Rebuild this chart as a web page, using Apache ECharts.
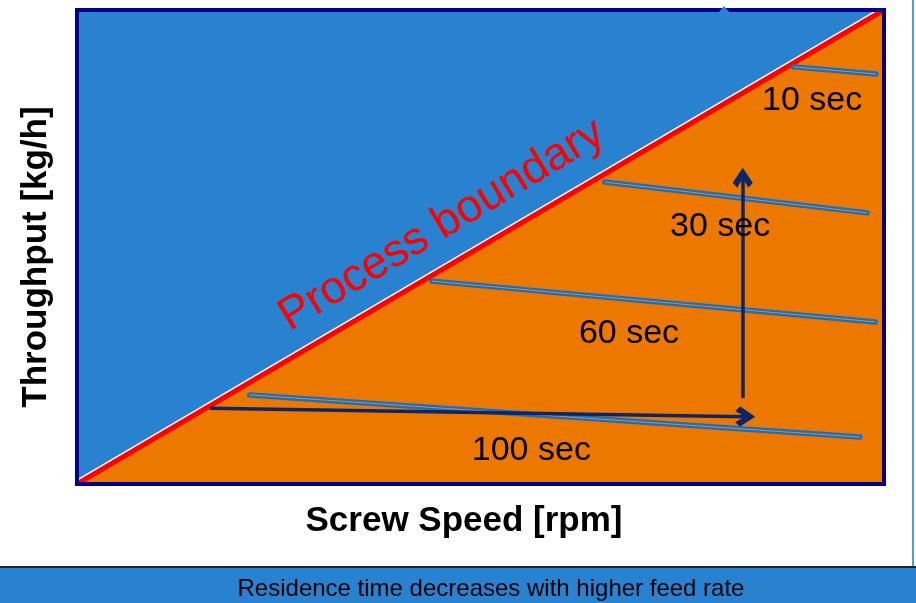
<!DOCTYPE html>
<html>
<head>
<meta charset="utf-8">
<script src="https://cdn.jsdelivr.net/npm/echarts@6/dist/echarts.min.js"></script>
<style>
  html, body { margin: 0; padding: 0; background: #fff; }
  #main { width: 916px; height: 603px; }
</style>
</head>
<body>
<div id="main"></div>
<script>
// process boundary: diagonal across the operating window (screw speed vs throughput, 0-100 %)
var boundary = [[0, 0], [100, 100]];

// residence time iso-lines [start, end]
var isoNames = ["10 sec", "30 sec", "60 sec", "100 sec"];
var isoLines = [
  [[88.8, 88.0], [99.0, 86.5]],
  [[65.4, 63.7], [97.9, 57.2]],
  [[44.0, 42.8], [98.9, 34.2]],
  [[21.4, 18.8], [97.0, 9.9]]
];
var isoLabelPos = [[91.1, 80.8], [79.7, 54.2], [68.4, 31.7], [56.3, 7.0]];

// arrows: more speed / more feed
var arrowSpeed = [[16.5, 16.0], [82.8, 14.2]];
var arrowFeed = [[82.5, 18.1], [82.5, 64.6]];

var boundaryLabel = "Process boundary";
var boundaryLabelPos = [45.2, 54.6];

var chevron = "path://M5,0 L10,6.6 L7.8,8.8 L5,4.6 L2.2,8.8 L0,6.6 Z";

var chart = echarts.init(document.getElementById("main"));

var series = [
  { type: "line", data: boundary, symbol: "none", silent: true, z: 2,
    lineStyle: { color: "#ffffff", width: 8 } },
  { type: "line", data: boundary, symbol: "none", silent: true, z: 3,
    lineStyle: { width: 0 }, areaStyle: { color: "#ED7800", opacity: 1 } },
  { type: "line", data: boundary, symbol: "none", silent: true, z: 4,
    lineStyle: { color: "#FF0000", width: 5 } }
];

isoLines.forEach(function (seg, i) {
  series.push({ type: "line", name: isoNames[i], data: seg, symbol: "none", silent: true, z: 5,
    lineStyle: { color: "#1170C8", width: 5.5, cap: "round" } });
  series.push({ type: "line", data: seg, symbol: "none", silent: true, z: 6,
    lineStyle: { color: "#D98A3A", width: 1 } });
});

series.push({
  type: "lines", coordinateSystem: "cartesian2d", silent: true, z: 7,
  symbol: ["none", chevron], symbolSize: [21, 20],
  lineStyle: { color: "#0B2566", width: 3.5, opacity: 1, curveness: 0 },
  data: [{ coords: arrowSpeed }, { coords: arrowFeed }]
});

series.push({
  type: "scatter", symbolSize: 0, silent: true, z: 8,
  itemStyle: { opacity: 1 },
  data: isoLabelPos.map(function (p, i) { return { name: isoNames[i], value: p }; }),
  label: { show: true, position: "inside", formatter: "{b}", color: "#000", opacity: 1,
    textBorderWidth: 0, fontFamily: "Liberation Sans", fontSize: 34 }
});

series.push({
  type: "scatter", symbolSize: 0, silent: true, z: 8,
  itemStyle: { opacity: 1 },
  data: [{ name: boundaryLabel, value: boundaryLabelPos }],
  label: { show: true, position: "inside", formatter: "{b}", color: "#FF0000", opacity: 1,
    textBorderWidth: 0, fontFamily: "Liberation Sans", fontSize: 46, rotate: 31 }
});

chart.setOption({
  animation: false,
  grid: { left: 77, right: 32, top: 10, bottom: 119, show: true,
    backgroundColor: "#2882D0", borderWidth: 0 },
  xAxis: {
    type: "value", min: 0, max: 100,
    axisLine: { show: false }, axisTick: { show: false },
    axisLabel: { show: false }, splitLine: { show: false }
  },
  yAxis: {
    type: "value", min: 0, max: 100,
    axisLine: { show: false }, axisTick: { show: false },
    axisLabel: { show: false }, splitLine: { show: false }
  },
  graphic: [
    { type: "rect", z: 100, silent: true,
      shape: { x: 77, y: 10, width: 807, height: 474 },
      style: { fill: "none", stroke: "#00008B", lineWidth: 4 } },
    { type: "polygon", z: 101, silent: true,
      shape: { points: [[719, 12], [724, 6], [729, 12]] },
      style: { fill: "#2882D0" } },
    { type: "text", z: 100, silent: true, x: 464, y: 521,
      style: { text: "Screw Speed [rpm]", fill: "#000", font: "bold 35px Liberation Sans",
        align: "center", verticalAlign: "middle" } },
    { type: "text", z: 100, silent: true, x: 36, y: 257, rotation: Math.PI / 2,
      style: { text: "Throughput [kg/h]", fill: "#000", font: "bold 35px Liberation Sans",
        align: "center", verticalAlign: "middle" } },
    { type: "rect", z: 100, silent: true,
      shape: { x: 912, y: 0, width: 2, height: 568 },
      style: { fill: "#5B9BD5" } },
    { type: "rect", z: 100, silent: true,
      shape: { x: 0, y: 568, width: 916, height: 35 },
      style: { fill: "#2882D0" } },
    { type: "rect", z: 101, silent: true,
      shape: { x: 0, y: 566, width: 916, height: 2 },
      style: { fill: "#222" } },
    { type: "text", z: 101, silent: true, x: 491, y: 589,
      style: { text: "Residence time decreases with higher feed rate", fill: "#000",
        font: "24px Liberation Sans", align: "center", verticalAlign: "middle" } }
  ],
  series: series
});
</script>
</body>
</html>
